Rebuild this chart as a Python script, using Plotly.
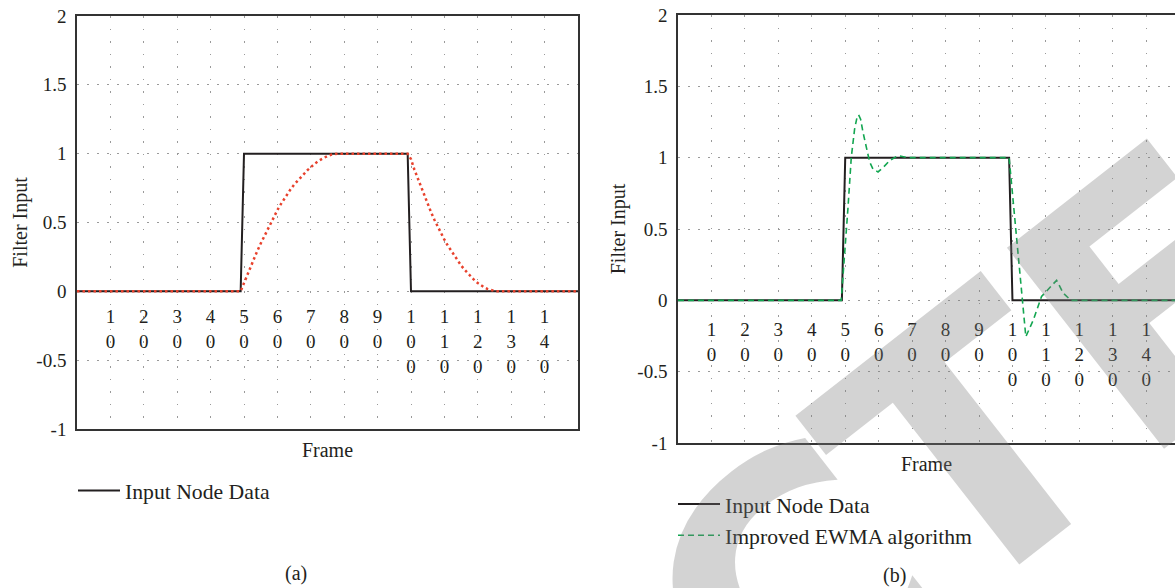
import plotly.graph_objects as go

# ---------------- data ----------------
input_frames = [0, 49, 50, 99, 100, 150]
input_values = [0, 0, 1, 1, 0, 0]

red_frames = [0, 49, 50, 51, 52, 53, 54, 55, 56, 57, 58, 59, 60, 61, 62, 63, 64, 65, 66, 67,
              68, 69, 70, 71, 72, 73, 74, 75, 76, 77, 78, 99, 100, 101, 102, 103, 104, 105,
              106, 107, 108, 109, 110, 111, 112, 113, 114, 115, 116, 117, 118, 119, 120,
              121, 122, 123, 124, 125, 126, 150]
red_values = [0, 0, 0.06, 0.12, 0.18, 0.245, 0.295, 0.347, 0.397, 0.448, 0.5, 0.547, 0.59,
              0.632, 0.671, 0.71, 0.743, 0.775, 0.803, 0.83, 0.858, 0.88, 0.902, 0.923,
              0.942, 0.957, 0.971, 0.983, 0.992, 0.997, 1.0, 1.0, 0.96, 0.885, 0.82, 0.757,
              0.695, 0.635, 0.575, 0.52, 0.468, 0.42, 0.375, 0.333, 0.295, 0.258, 0.222,
              0.188, 0.158, 0.13, 0.104, 0.08, 0.06, 0.043, 0.028, 0.016, 0.008, 0.003, 0.0, 0.0]

ewma_frames = [0, 48.8, 50.8, 51.8, 52.8, 53.5, 54.0, 54.6, 55.3, 57.3, 58.3, 59.8, 61.3,
               63.3, 65.8, 68.8, 99.0, 99.7, 101.2, 103.4, 104.0, 106.2, 108.7, 113.2,
               115.2, 117.5, 150]
ewma_values = [0, 0, 0.64, 1.0, 1.2, 1.28, 1.30, 1.27, 1.18, 0.97, 0.92, 0.90, 0.93,
               0.98, 1.015, 1.0, 1.0, 0.83, 0.47, -0.11, -0.255, -0.14, 0.027, 0.14,
               0.05, 0.0, 0.0]

x_tick_values = [10, 20, 30, 40, 50, 60, 70, 80, 90, 100, 110, 120, 130, 140]
x_tick_labels = ["<br>".join(str(v)) for v in x_tick_values]
y_tick_values = [-1, -0.5, 0, 0.5, 1, 1.5, 2]
y_tick_labels = ["-1", "-0.5", "0", "0.5", "1", "1.5", "2"]

# watermark letters (the visible part of the overlaid word)
watermark_letters = ["C", "T", "E"]

# ---------------- layout geometry ----------------
W, H = 1175, 588
FONT = "Liberation Serif"
TXT = "#231f20"
GRID = "#9a9a9a"

left_dom_x = [77 / W, 578 / W]
left_dom_y = [1 - 429 / H, 1 - 16 / H]
right_dom_x = [678 / W, 1.0]
right_dom_y = [1 - 443 / H, 1 - 15 / H]
y_range = [-1, 2]
watermark_pos = [(795, 598), (972, 448), (1158, 300)]   # pixel centres of the letters


def zero_pos(dom):
    return dom[0] + (0 - y_range[0]) / (y_range[1] - y_range[0]) * (dom[1] - dom[0])


fig = go.Figure()

# left panel
fig.add_trace(go.Scatter(x=input_frames, y=input_values, mode="lines", name="Input Node Data",
                         line=dict(color=TXT, width=2), xaxis="x", yaxis="y", legend="legend"))
fig.add_trace(go.Scatter(x=red_frames, y=red_values, mode="lines", showlegend=False,
                         line=dict(color="#e8412c", width=2.5, dash="2.5px,3px"),
                         xaxis="x", yaxis="y"))
# right panel
fig.add_trace(go.Scatter(x=input_frames, y=input_values, mode="lines", name="Input Node Data",
                         line=dict(color=TXT, width=2), xaxis="x2", yaxis="y2", legend="legend2"))
fig.add_trace(go.Scatter(x=ewma_frames, y=ewma_values, mode="lines", name="Improved EWMA algorithm",
                         line=dict(color="#13a651", width=1.6, dash="6px,4px"),
                         xaxis="x2", yaxis="y2", legend="legend2"))
# empty helpers so the tick-label axes are drawn
fig.add_trace(go.Scatter(x=[None], y=[None], xaxis="x3", yaxis="y", showlegend=False, hoverinfo="skip"))
fig.add_trace(go.Scatter(x=[None], y=[None], xaxis="x4", yaxis="y2", showlegend=False, hoverinfo="skip"))

frame_axis = dict(showgrid=True, gridcolor=GRID, gridwidth=1, griddash="1.5px,11px",
                  tickmode="array", tickvals=x_tick_values, showticklabels=False, ticks="",
                  showline=True, linecolor="#333333", linewidth=1.5, mirror=True,
                  zeroline=False, automargin=False,
                  title=dict(text="Frame", font=dict(family=FONT, size=20, color=TXT), standoff=13))
val_axis = dict(range=y_range, showgrid=True, gridcolor=GRID, gridwidth=1, griddash="1.5px,8.5px",
                tickmode="array", tickvals=y_tick_values, ticktext=y_tick_labels, ticks="",
                ticklabelstandoff=5, tickfont=dict(family=FONT, size=19, color=TXT),
                showline=True, linecolor="#333333", linewidth=1.5, zeroline=False, automargin=False,
                title=dict(text="Filter Input", font=dict(family=FONT, size=20, color=TXT), standoff=6))
label_axis = dict(tickmode="array", tickvals=x_tick_values, ticktext=x_tick_labels, ticks="",
                  showgrid=False, showline=False, zeroline=False, anchor="free", automargin=False,
                  tickfont=dict(family=FONT, size=19, color=TXT))

wm_annotations = [
    dict(text="<b>" + letter + "</b>", x=px / W, y=1 - py / H, xref="paper", yref="paper",
         xanchor="center", yanchor="middle", showarrow=False, textangle=-38,
         font=dict(family="DejaVu Sans", size=350, color="rgba(120,120,120,0.33)"))
    for letter, (px, py) in zip(watermark_letters, watermark_pos)
]

fig.update_layout(
    width=W, height=H, margin=dict(l=0, r=0, t=0, b=0, autoexpand=False),
    paper_bgcolor="white", plot_bgcolor="rgba(0,0,0,0)",
    font=dict(family=FONT, color=TXT),
    xaxis=dict(frame_axis, domain=left_dom_x, range=[0, 150], anchor="y"),
    yaxis=dict(val_axis, domain=left_dom_y, anchor="x", mirror=True,
               title=dict(val_axis["title"], standoff=3)),
    xaxis2=dict(frame_axis, domain=right_dom_x, range=[0, 148.6], anchor="y2"),
    yaxis2=dict(val_axis, domain=right_dom_y, anchor="x2", mirror=False),
    xaxis3=dict(label_axis, overlaying="x", range=[0, 150], position=zero_pos(left_dom_y),
                ticklabelstandoff=12),
    xaxis4=dict(label_axis, overlaying="x2", range=[0, 148.6], position=zero_pos(right_dom_y),
                ticklabelstandoff=16),
    legend=dict(x=73 / W, y=1 - 491 / H, xanchor="left", yanchor="middle",
                bgcolor="rgba(0,0,0,0)", itemwidth=42,
                font=dict(family=FONT, size=21.7, color=TXT)),
    legend2=dict(x=673 / W, y=1 - 520 / H, xanchor="left", yanchor="middle",
                 bgcolor="rgba(0,0,0,0)", itemwidth=42, tracegroupgap=0,
                 font=dict(family=FONT, size=21.7, color=TXT)),
    annotations=[
        dict(text="(a)", x=296 / W, y=1 - 573 / H, xref="paper", yref="paper", showarrow=False,
             xanchor="center", yanchor="middle", font=dict(family=FONT, size=20, color=TXT)),
        dict(text="(b)", x=894 / W, y=1 - 575 / H, xref="paper", yref="paper", showarrow=False,
             xanchor="center", yanchor="middle", font=dict(family=FONT, size=20, color=TXT)),
    ] + wm_annotations,
)

fig.write_html("out.html", config={"displayModeBar": False},
               post_script="document.body.style.margin='0';document.body.style.overflow='hidden';")
